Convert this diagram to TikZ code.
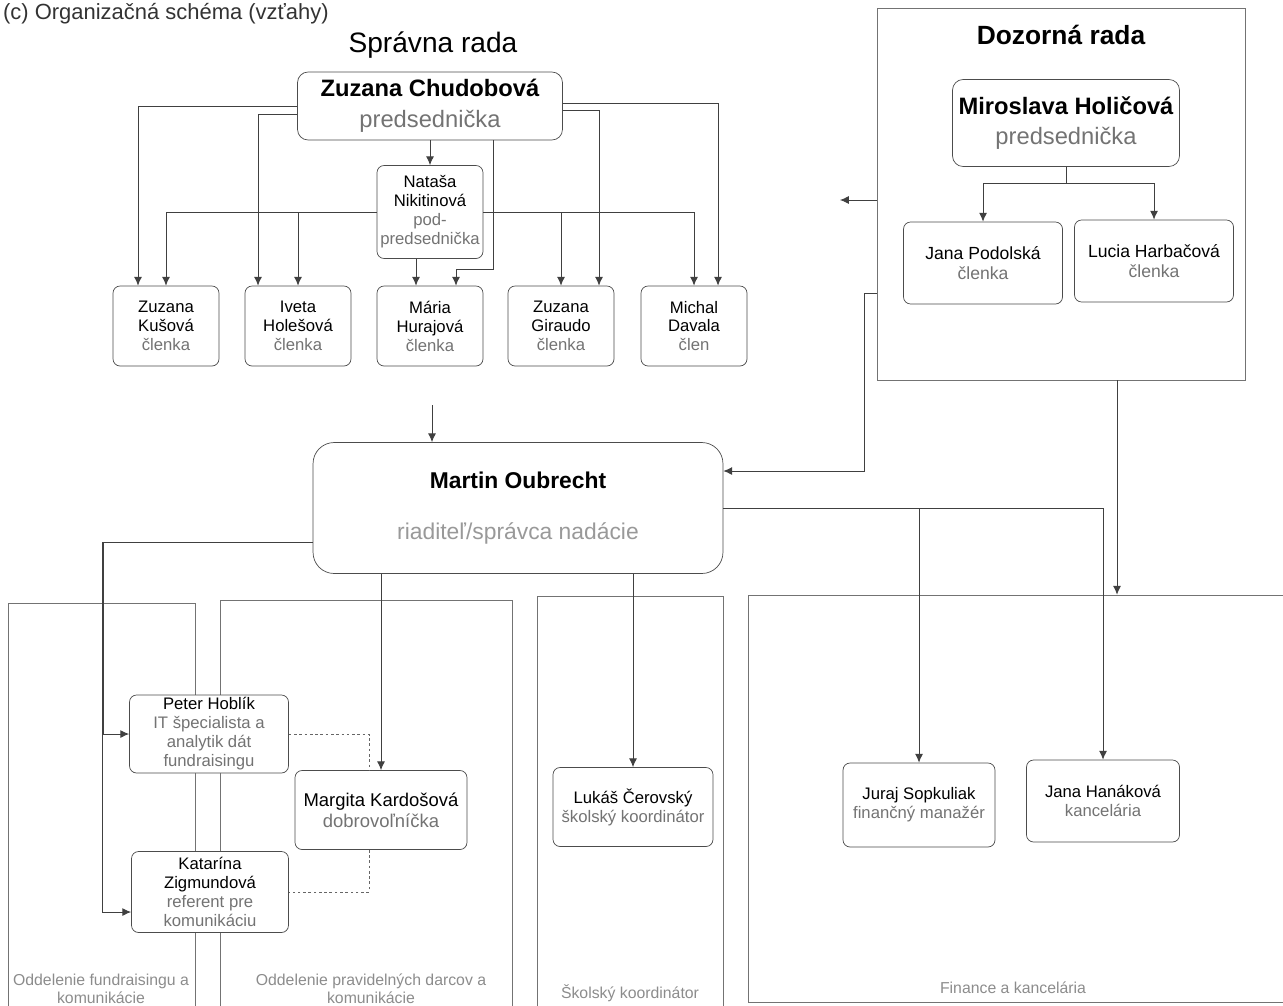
\documentclass[tikz,border=0pt]{standalone}
\usepackage{fontspec}
\setmainfont{Liberation Sans}
\usepackage{xcolor}
\usetikzlibrary{arrows.meta, positioning, calc}

\newcommand{\roletxt}[1]{\textcolor{black!55}{#1}}

\begin{document}
\begin{tikzpicture}[x=0.02cm, y=-0.02cm,
    person/.style={rectangle, rounded corners=4pt, draw=black!70, fill=white, align=center, inner sep=0pt, font=\fontsize{9.5}{10.8}\selectfont},
    head/.style={rectangle, rounded corners=6pt, draw=black!70, fill=white, align=center, font=\fontsize{13.5}{17.5}\selectfont},
    group/.style={rectangle, draw=black!55, inner sep=0pt},
    grouplabel/.style={align=center, text=black!45, font=\fontsize{9}{10.5}\selectfont},
    arrow/.style={-{Latex[length=5pt,width=4.5pt]}, draw=black!75, line width=0.5pt},
    link/.style={draw=black!60, line width=0.5pt, dash pattern=on 1.5pt off 1.5pt}
]
\useasboundingbox (0,0) rectangle (1283,1005);

\node[anchor=north west, inner sep=1pt, text=black!80, font=\fontsize{12.5}{15}\selectfont] (title) at (1,1) {(c) Organizačná schéma (vzťahy)};

\node[group, minimum width=3.74cm, minimum height=8.18cm] (fund) at (101.5,807.5) {};
\node[group, minimum width=5.84cm, minimum height=8.24cm] (prav) at (366,806) {};
\node[group, minimum width=3.72cm, minimum height=8.32cm] (skol) at (630,804) {};
\node[group, minimum width=10.94cm, minimum height=8.14cm] (fin) at (1021.5,798.5) {};
\node[group, minimum width=7.36cm, minimum height=7.44cm] (dr) at (1061,194) {};

\node[grouplabel] (fundlbl) at (101,989) {Oddelenie fundraisingu a\\komunikácie};
\node[grouplabel] (pravlbl) at (371,989) {Oddelenie pravidelných darcov a\\komunikácie};
\node[grouplabel] (skollbl) at (630,993) {Školský koordinátor};
\node[grouplabel] (finlbl) at (1013,988) {Finance a kancelária};

\node[font=\fontsize{16}{19}\selectfont] (srtitle) at (433,45) {Správna rada};
\node[font=\fontsize{15}{18}\selectfont\bfseries] (drtitle) at (1061,35) {Dozorná rada};

\node[head, minimum width=5.3cm, minimum height=1.36cm] (zc) at (430,106) {\textbf{Zuzana Chudobová}\\\roletxt{predsednička}};
\node[person, minimum width=2.12cm, minimum height=1.86cm] (nn) at (430,212) {Nataša\\Nikitinová\\\roletxt{pod-}\\\roletxt{predsednička}};
\node[person, minimum width=2.12cm, minimum height=1.6cm] (zk) at (166,326) {Zuzana\\Kušová\\\roletxt{členka}};
\node[person, minimum width=2.12cm, minimum height=1.6cm] (ih) at (298,326) {Iveta\\Holešová\\\roletxt{členka}};
\node[person, minimum width=2.12cm, minimum height=1.6cm] (mh) at (430,326) {Mária\\Hurajová\\\roletxt{členka}};
\node[person, minimum width=2.12cm, minimum height=1.6cm] (zg) at (561,326) {Zuzana\\Giraudo\\\roletxt{členka}};
\node[person, minimum width=2.12cm, minimum height=1.6cm] (md) at (694,326) {Michal\\Davala\\\roletxt{člen}};

\node[head, minimum width=4.54cm, minimum height=1.74cm] (mho) at (1066,123) {\textbf{Miroslava Holičová}\\\roletxt{predsednička}};
\node[person, font=\fontsize{10}{11.3}\selectfont, minimum width=3.18cm, minimum height=1.64cm] (jp) at (983,263) {Jana Podolská\\\roletxt{členka}};
\node[person, font=\fontsize{10}{11.3}\selectfont, minimum width=3.18cm, minimum height=1.64cm] (lh) at (1154,261) {Lucia Harbačová\\\roletxt{členka}};

\node[head, rounded corners=12pt, font=\fontsize{13}{17}\selectfont, minimum width=8.2cm, minimum height=2.62cm] (mo) at (518,508) {\textbf{Martin Oubrecht}\\[12pt]\textcolor{black!40}{riaditeľ/správca nadácie}};

\node[person, minimum width=3.18cm, minimum height=1.56cm] (ph) at (209,734) {Peter Hoblík\\\roletxt{IT špecialista a}\\\roletxt{analytik dát}\\\roletxt{fundraisingu}};
\node[person, minimum width=3.14cm, minimum height=1.62cm] (kz) at (210,892) {Katarína\\Zigmundová\\\roletxt{referent pre}\\\roletxt{komunikáciu}};
\node[person, font=\fontsize{10.5}{12}\selectfont, minimum width=3.44cm, minimum height=1.58cm] (mk) at (381,810) {Margita Kardošová\\\roletxt{dobrovoľníčka}};
\node[person, minimum width=3.2cm, minimum height=1.58cm] (lc) at (633,807) {Lukáš Čerovský\\\roletxt{školský koordinátor}};
\node[person, minimum width=3.04cm, minimum height=1.68cm] (js) at (919,805) {Juraj Sopkuliak\\\roletxt{finančný manažér}};
\node[person, minimum width=3.06cm, minimum height=1.64cm] (jh) at (1103,801) {Jana Hanáková\\\roletxt{kancelária}};

\draw[arrow] (zc) -- (nn);
\draw[arrow] (zc.west) -| ($(zk.north)+(-28,0)$);
\draw[arrow] ($(zc.west)+(0,8)$) -| ($(ih.north)+(-40,0)$);
\draw[arrow] ($(zc.east)+(0,-3)$) -| ($(md.north)+(24,0)$);
\draw[arrow] ($(zc.east)+(0,4)$) -| ($(zg.north)+(38,0)$);
\draw[arrow] ($(zc.south)+(63,0)$) |- ($(mh.north)+(26,-16)$) -- ($(mh.north)+(26,0)$);
\draw[arrow] (nn.west) -| (zk.north);
\draw[arrow] (nn.west) -| (ih.north);
\draw[arrow] (nn.east) -| (zg.north);
\draw[arrow] (nn.east) -| (md.north);
\draw[arrow] ($(nn.south)+(-14,0)$) -- ($(mh.north)+(-14,0)$);

\draw[arrow] (mho.south) -- ++(0,17) -| (jp.north);
\draw[arrow] (mho.south) -- ++(0,17) -| (lh.north);
\coordinate (drout) at (840,200);
\draw[arrow] ($(dr.west)+(0,6)$) -- (drout);
\draw[arrow] ($(dr.west)+(0,99)$) -- ++(-12,0) |- ($(mo.east)+(0,-37)$);
\coordinate (drfin) at ($(dr.south)+(56,0)$);
\draw[arrow] (drfin) -- (drfin |- fin.north);
\coordinate (srmo) at (432,405);
\draw[arrow] (srmo) -- (srmo |- mo.north);

\draw[arrow] (mo.east) -| (js.north);
\draw[arrow] (mo.east) -| (jh.north);
\draw[arrow] (mo.south -| lc.north) -- (lc.north);
\draw[arrow] (mo.south -| mk.north) -- (mk.north);
\draw[arrow] ($(mo.west)+(0,34)$) -| ($(ph.west)+(-26,0)$) -- (ph.west);
\draw[arrow] ($(mo.west)+(0,34)$) -| ($(kz.west)+(-29,20)$) -- ($(kz.west)+(0,20)$);
\draw[link] (ph.east) -| ($(mk.north)+(-12,0)$);
\draw[link] ($(mk.south)+(-12,0)$) |- (kz.east);

\end{tikzpicture}
\end{document}
